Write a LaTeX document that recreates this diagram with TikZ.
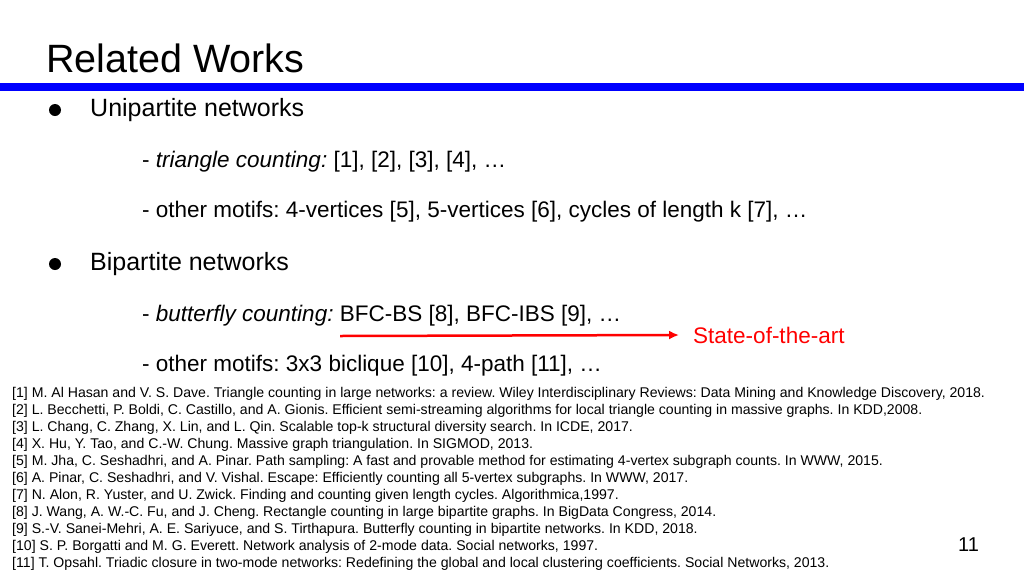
\documentclass[tikz,border=0pt]{standalone}
\usepackage{fontspec}
\setmainfont{Liberation Sans}
\usetikzlibrary{arrows.meta}
\frenchspacing
\tikzset{
  body/.style={anchor=west, inner sep=0pt, font=\fontsize{25}{28}\selectfont},
  subline/.style={anchor=west, inner sep=0pt, font=\fontsize{22.5}{26}\selectfont},
  refline/.style={anchor=west, inner sep=0pt, font=\fontsize{14.1}{16}\selectfont},
  dotmark/.style={circle, fill=black, inner sep=0pt, minimum size=12pt}
}
\begin{document}
\begin{tikzpicture}[x=1pt,y=-1pt]
  \useasboundingbox (0,0) rectangle (1024,576);
  % title
  \node[anchor=west, inner sep=0pt, font=\fontsize{39.5}{44}\selectfont] (title) at (46,58) {Related Works};
  \fill[blue] (0,83) rectangle (1024,91);
  % unipartite
  \node[dotmark] (b1) at (55,110) {};
  \node[body] (uni) at (90,110) {Unipartite networks};
  \node[subline] (tri) at (142,162) {- \textit{triangle counting:} [1], [2], [3], [4], …};
  \node[subline] (mot1) at (142,212) {- other motifs: 4-vertices [5], 5-vertices [6], cycles of length k [7], …};
  % bipartite
  \node[dotmark] (b2) at (55,264) {};
  \node[body] (bip) at (90,264) {Bipartite networks};
  \node[subline] (bfly) at (142,316) {- \textit{butterfly counting:} BFC-BS [8], BFC-IBS [9], …};
  \node[subline] (mot2) at (142,366) {- other motifs: 3x3 biclique [10], 4-path [11], …};
  \coordinate (arrstart) at (340,336);
  \node[anchor=west, inner sep=0pt, text=red, font=\fontsize{22.5}{26}\selectfont] (sota) at (693,335) {State-of-the-art};
  \draw[red, line width=2.5pt, -{Latex[length=10pt,width=9pt]}] (arrstart) -- ([xshift=-14pt]sota.west);
  % references
  \foreach \txt [count=\i] in {
    {[1] M. Al Hasan and V. S. Dave. Triangle counting in large networks: a review. Wiley Interdisciplinary Reviews: Data Mining and Knowledge Discovery, 2018.},
    {[2] L. Becchetti, P. Boldi, C. Castillo, and A. Gionis. Efficient semi-streaming algorithms for local triangle counting in massive graphs. In KDD,2008.},
    {[3] L. Chang, C. Zhang, X. Lin, and L. Qin. Scalable top-k structural diversity search. In ICDE, 2017.},
    {[4] X. Hu, Y. Tao, and C.-W. Chung. Massive graph triangulation. In SIGMOD, 2013.},
    {[5] M. Jha, C. Seshadhri, and A. Pinar. Path sampling: A fast and provable method for estimating 4-vertex subgraph counts. In WWW, 2015.},
    {[6] A. Pinar, C. Seshadhri, and V. Vishal. Escape: Efficiently counting all 5-vertex subgraphs. In WWW, 2017.},
    {[7] N. Alon, R. Yuster, and U. Zwick. Finding and counting given length cycles. Algorithmica,1997.},
    {[8] J. Wang, A. W.-C. Fu, and J. Cheng. Rectangle counting in large bipartite graphs. In BigData Congress, 2014.},
    {[9] S.-V. Sanei-Mehri, A. E. Sariyuce, and S. Tirthapura. Butterfly counting in bipartite networks. In KDD, 2018.},
    {[10] S. P. Borgatti and M. G. Everett. Network analysis of 2-mode data. Social networks, 1997.},
    {[11] T. Opsahl. Triadic closure in two-mode networks: Redefining the global and local clustering coefficients. Social Networks, 2013.}}
    \node[refline] (ref\i) at (12,{394+(\i-1)*17}) {\txt};
  % page number
  \node[anchor=west, inner sep=0pt, font=\fontsize{20}{24}\selectfont] (pagenum) at (958,545) {11};
\end{tikzpicture}
\end{document}
